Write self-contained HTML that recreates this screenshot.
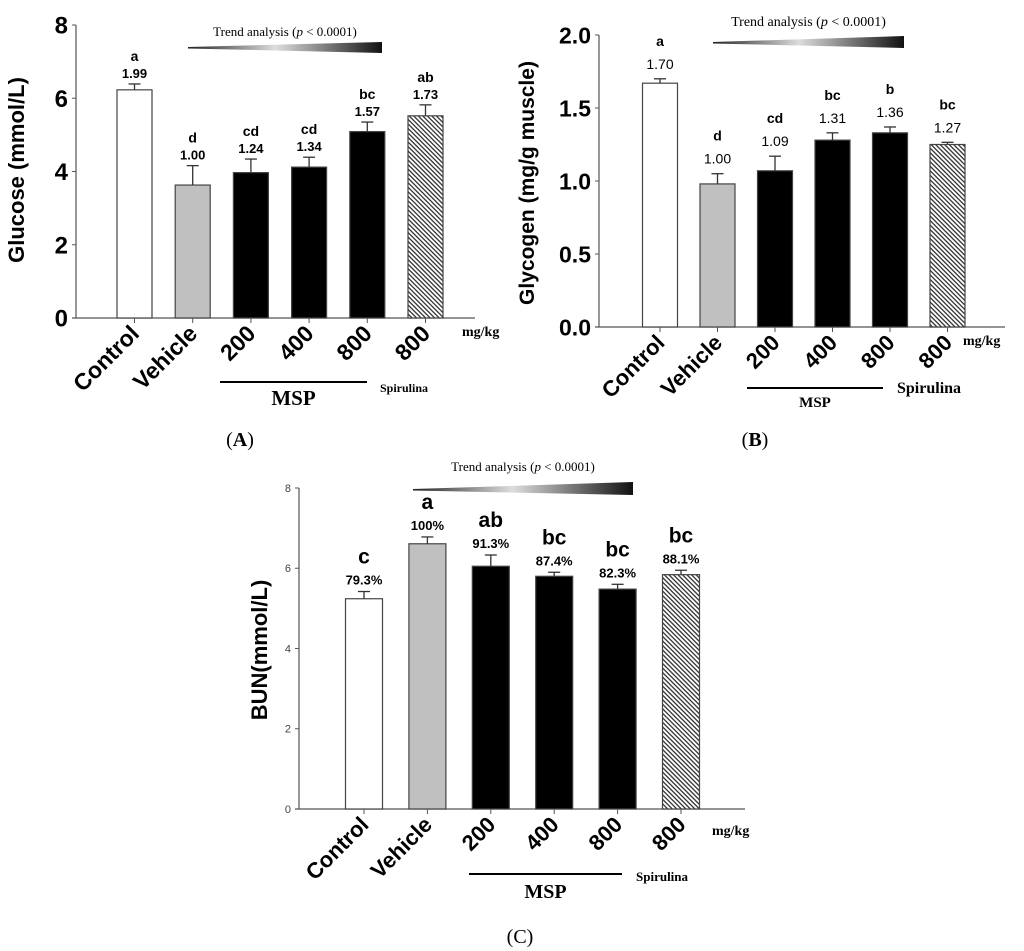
<!DOCTYPE html>
<html><head><meta charset="utf-8"><style>
body{margin:0;background:#fff;}
svg{display:block;}
.sans{font-family:"Liberation Sans",Arial,sans-serif;}
.serif{font-family:"Liberation Serif","Times New Roman",serif;}
</style></head><body>
<svg id="fig" width="1024" height="951" viewBox="0 0 1024 951">
<defs>
<pattern id="hatch" patternUnits="userSpaceOnUse" width="3.2" height="3.2" patternTransform="rotate(45)">
<rect width="3.2" height="3.2" fill="#fff"/><rect width="3.2" height="1.3" fill="#333"/>
</pattern>
<linearGradient id="trendGrad" x1="0" x2="1" y1="0" y2="0">
<stop offset="0" stop-color="#222"/><stop offset="0.45" stop-color="#ddd"/><stop offset="1" stop-color="#111"/>
</linearGradient>
</defs>
</svg>
<script>
const categories = ["Control","Vehicle","200","400","800","800"];
const fills = ["#fff","#c0c0c0","#000","#000","#000","url(#hatch)"];
// Panel A
const glucoseValues = [6.23,3.63,3.97,4.12,5.09,5.52];
const glucoseErrors = [0.16,0.53,0.37,0.27,0.26,0.30];
const glucoseLetters = ["a","d","cd","cd","bc","ab"];
const glucoseLabels = ["1.99","1.00","1.24","1.34","1.57","1.73"];
const glucoseTicks = ["0","2","4","6","8"];
// Panel B
const glycogenValues = [1.67,0.98,1.07,1.28,1.33,1.25];
const glycogenErrors = [0.03,0.07,0.10,0.05,0.04,0.015];
const glycogenLetters = ["a","d","cd","bc","b","bc"];
const glycogenLabels = ["1.70","1.00","1.09","1.31","1.36","1.27"];
const glycogenTicks = ["0.0","0.5","1.0","1.5","2.0"];
// Panel C
const bunValues = [5.24,6.61,6.05,5.80,5.48,5.84];
const bunErrors = [0.18,0.17,0.28,0.10,0.12,0.11];
const bunLetters = ["c","a","ab","bc","bc","bc"];
const bunLabels = ["79.3%","100%","91.3%","87.4%","82.3%","88.1%"];
const bunTicks = ["0","2","4","6","8"];

const NS="http://www.w3.org/2000/svg";
const svg=document.getElementById('fig');
function el(tag,attrs,parent,text){const e=document.createElementNS(NS,tag);for(const k in attrs)e.setAttribute(k,attrs[k]);if(text!==undefined)e.textContent=text;(parent||svg).appendChild(e);return e;}

function panel(cfg){
  const g=el('g',{},svg);
  
  
  const ymax=cfg.ymax;
  const y=v=>cfg.y0-(v/ymax)*(cfg.y0-cfg.yTop);
  const x=i=>cfg.x0+i*cfg.pitch;
  const ya=el('line',{x1:cfg.ax,y1:cfg.yTop,x2:cfg.ax,y2:cfg.y0,stroke:'#555','stroke-width':1.2},g);
  
  
  const xa=el('line',{x1:cfg.ax-4,y1:cfg.y0,x2:cfg.xEnd,y2:cfg.y0,stroke:'#555','stroke-width':1.2},g);
  
  
  cfg.ticks.forEach((t,i)=>{
    const v=i*ymax/(cfg.ticks.length-1);
    el('line',{x1:cfg.ax-4,y1:y(v),x2:cfg.ax,y2:y(v),stroke:'#555'},g);
    const tl=el('text',{x:cfg.ax-8,y:y(v)+cfg.tickFs*0.36,'text-anchor':'end','font-size':cfg.tickFs,'font-weight':cfg.tickBold?'bold':'normal',fill:cfg.tickBold?'#000':'#444',class:'sans'},g,t);
    
    
  });
  const yt=el('text',{transform:`translate(${cfg.ytx},${cfg.yty}) rotate(-90)`,'text-anchor':'middle','font-size':cfg.ytFs,'font-weight':'bold',class:'sans'},g,cfg.yTitle);
  
  
  cfg.values.forEach((v,i)=>{
    const cx=x(i);
    const b=el('rect',{x:cx-cfg.bw/2,y:y(v),width:cfg.bw,height:cfg.y0-y(v),fill:fills[i],stroke:'#444','stroke-width':1.2},g);
    
    
    const et=y(v+cfg.errors[i]);
    const e1=el('line',{x1:cx,y1:y(v),x2:cx,y2:et,stroke:'#333','stroke-width':1.3},g);
    
    
    el('line',{x1:cx-6,y1:et,x2:cx+6,y2:et,stroke:'#333','stroke-width':1.3},g);
    el('line',{x1:cx,y1:cfg.y0,x2:cx,y2:cfg.y0+5,stroke:'#555'},g);
    const top=et-cfg.labGap;
    const lv=el('text',{x:cx,y:top,'text-anchor':'middle','font-size':cfg.valFs,'font-weight':cfg.valBold?'bold':'normal',class:'sans'},g,cfg.labels[i]);
    
    
    const ll=el('text',{x:cx,y:top-cfg.letGap,'text-anchor':'middle','font-size':cfg.letFs,'font-weight':'bold',class:'sans'},g,cfg.letters[i]);
    
    
    const cl=el('text',{transform:`translate(${cx+6},${cfg.y0+17}) rotate(-45)`,'text-anchor':'end','font-size':cfg.catFs,'font-weight':'bold',class:'sans'},g,categories[i]);
    
    
  });
  const tr=cfg.trend;
  const tp=el('polygon',{points:`${tr.x1},${tr.yl} ${tr.x2},${tr.yt} ${tr.x2},${tr.yb} ${tr.x1},${tr.yl+1.5}`,fill:'url(#trendGrad)'},g);
  
  
  const tt=el('text',{x:(tr.x1+tr.x2)/2,y:tr.ty,'text-anchor':'middle','font-size':tr.fs,class:'serif'},g);
  
  
  el('tspan',{},tt,'Trend analysis (');
  el('tspan',{'font-style':'italic'},tt,'p');
  el('tspan',{},tt,' < 0.0001)');
  const m=cfg.msp;
  const ml=el('line',{x1:m.x1,y1:m.y,x2:m.x2,y2:m.y,stroke:'#000','stroke-width':2},g);
  
  
  const mt=el('text',{x:(m.x1+m.x2)/2,y:m.ty,'text-anchor':'middle','font-size':m.fs,'font-weight':'bold',class:'serif'},g,'MSP');
  
  
  const sp=el('text',{x:m.sx,y:m.sy,'font-size':m.sfs,'font-weight':'bold',class:'serif'},g,'Spirulina');
  
  
  const mk=el('text',{x:m.kx,y:m.ky,'font-size':m.kfs,'font-weight':'bold',class:'serif'},g,'mg/kg');
  
  
  const pl=el('text',{x:cfg.px,y:cfg.py,'text-anchor':'middle','font-size':20,class:'serif'},g);
  
  
  el('tspan',{},pl,'(');el('tspan',{'font-weight':cfg.pBold?'bold':'normal'},pl,cfg.pLetter);el('tspan',{},pl,')');
}

panel({name:'panel-a-glucose',values:glucoseValues,errors:glucoseErrors,letters:glucoseLetters,labels:glucoseLabels,ticks:glucoseTicks,
  ymax:8,y0:318,yTop:25,ax:76,xEnd:475,x0:134.5,pitch:58.2,bw:35,tickFs:24,tickBold:true,ytx:24,yty:170,ytFs:22,yTitle:'Glucose (mmol/L)',
  valFs:13,valBold:true,letFs:14,labGap:6,letGap:17,catFs:23,
  trend:{x1:188,x2:382,yl:47,yt:42,yb:53,ty:36,fs:13},
  msp:{x1:220,x2:367,y:382,ty:405,fs:21,sx:380,sy:392,sfs:12,kx:462,ky:336,kfs:14},px:240,py:446,pLetter:'A',pBold:true});

panel({name:'panel-b-glycogen',values:glycogenValues,errors:glycogenErrors,letters:glycogenLetters,labels:glycogenLabels,ticks:glycogenTicks,
  ymax:2,y0:327,yTop:35,ax:599,xEnd:1005,x0:660,pitch:57.5,bw:35,tickFs:23,tickBold:true,ytx:534,yty:183,ytFs:21,yTitle:'Glycogen (mg/g muscle)',
  valFs:14,valBold:false,letFs:14,labGap:10,letGap:23,catFs:22,
  trend:{x1:713,x2:904,yl:42,yt:36,yb:48,ty:26,fs:14},
  msp:{x1:747,x2:883,y:388,ty:407,fs:15,sx:897,sy:393,sfs:16,kx:963,ky:345,kfs:14},px:755,py:446,pLetter:'B',pBold:true});

panel({name:'panel-c-bun',values:bunValues,errors:bunErrors,letters:bunLetters,labels:bunLabels,ticks:bunTicks,
  ymax:8,y0:809,yTop:488,ax:299,xEnd:745,x0:364,pitch:63.4,bw:37,tickFs:11,tickBold:false,ytx:267,yty:650,ytFs:22,yTitle:'BUN(mmol/L)',
  valFs:13,valBold:true,letFs:21,labGap:7,letGap:21,catFs:22,
  trend:{x1:413,x2:633,yl:489,yt:482,yb:495,ty:471,fs:13},
  msp:{x1:469,x2:622,y:874,ty:898,fs:20,sx:636,sy:881,sfs:13,kx:712,ky:835,kfs:14},px:520,py:943,pLetter:'C',pBold:false});
</script>
</body></html>
